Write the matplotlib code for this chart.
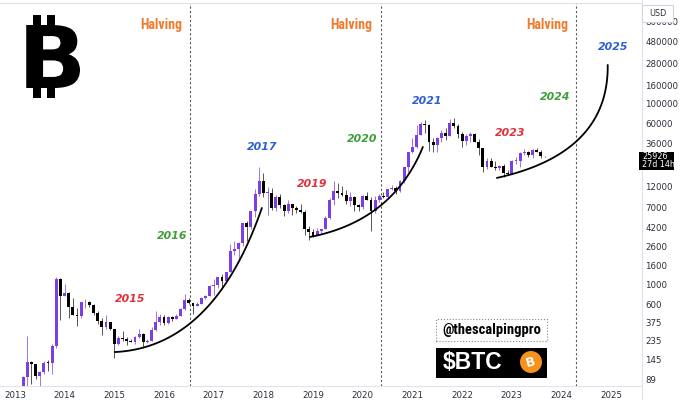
import numpy as np
import matplotlib
matplotlib.use("Agg")
import matplotlib.pyplot as plt
import matplotlib.transforms as mtrans
from matplotlib.patches import Rectangle, Ellipse, PathPatch
from matplotlib.textpath import TextPath
from matplotlib.font_manager import FontProperties

# monthly BTC candles, Mar 2013 .. Sep 2023
start_year, start_month = 2013, 3

opens = [34, 93, 139, 129, 97, 106, 135, 133, 205, 1140,
         740, 800, 560, 457, 447, 627, 640, 585, 478, 387, 338, 378,
         320, 217, 254, 244, 236, 230, 263, 284, 231, 236, 314, 377,
         430, 369, 437, 416, 448, 530, 673, 624, 573, 608, 700, 745,
         964, 970, 1190, 1080, 1350, 2300, 2480, 2860, 4700, 4340, 6440, 10000,
         13900, 10200, 10300, 6900, 9250, 7500, 6400, 7730, 7030, 6630, 6370, 4040,
         3740, 3440, 3830, 4100, 5350, 8570, 10800, 10100, 9590, 8290, 9150, 7550,
         7190, 9350, 8550, 6420, 8620, 9450, 9140, 11350, 11650, 10780, 13800, 19700,
         28950, 33100, 45200, 58800, 57700, 37300, 35000, 41500, 47100, 43800, 61300, 57000,
         46200, 38500, 43200, 45500, 37650, 31800, 19950, 23300, 20050, 19400, 20500, 17150,
         16550, 23150, 23150, 28450, 29250, 27200, 30450, 29250, 25950]
highs = [95, 266, 140, 130, 110, 140, 146, 215, 1200, 1163,
         1000, 810, 700, 540, 630, 680, 650, 600, 500, 420, 457, 380,
         320, 265, 300, 262, 247, 268, 317, 286, 245, 335, 500, 465,
         460, 445, 440, 470, 550, 780, 700, 625, 630, 720, 760, 980,
         1150, 1200, 1300, 1350, 2790, 3000, 2950, 4750, 5000, 6450, 11400, 19700,
         17200, 11800, 11700, 9750, 10000, 7770, 8500, 7750, 7400, 7700, 6600, 4400,
         4100, 4200, 4120, 5650, 9000, 13900, 13200, 12300, 10900, 10500, 9500, 7750,
         9600, 10500, 9200, 9470, 10070, 10400, 11450, 12480, 12080, 14100, 19900, 29300,
         41950, 58300, 61800, 64900, 59500, 41300, 42300, 50500, 52900, 67000, 69000, 59100,
         47950, 45800, 48200, 47450, 40000, 31950, 24650, 25200, 22800, 21100, 21450, 18400,
         23950, 25250, 29200, 31000, 29850, 31400, 31800, 30250, 26100]
lows = [33, 50, 79, 88, 65, 102, 110, 100, 198, 400,
        740, 420, 450, 340, 420, 550, 560, 450, 360, 275, 320, 310,
        152, 212, 235, 214, 228, 220, 252, 195, 225, 235, 300, 350,
        350, 365, 395, 415, 440, 520, 605, 465, 570, 606, 680, 740,
        750, 915, 890, 1060, 1350, 2100, 1830, 2650, 2970, 4100, 5500, 9500,
        9200, 5900, 6600, 6400, 7000, 5750, 6100, 5880, 6100, 6200, 3500, 3120,
        3350, 3370, 3700, 4100, 5330, 7450, 9100, 9400, 7700, 7300, 6500, 6420,
        6850, 8450, 3850, 6150, 8100, 8900, 8980, 10950, 9850, 10400, 13200, 17600,
        28200, 32300, 45000, 47000, 30000, 28800, 29300, 37300, 39600, 43300, 53250, 42000,
        32950, 34300, 37200, 37650, 26700, 17600, 18800, 19600, 18150, 18200, 15500, 16300,
        16500, 21450, 19600, 26950, 25800, 24800, 28850, 25200, 25800]
closes = [93, 139, 129, 97, 106, 135, 133, 205, 1140, 740,
          800, 560, 457, 447, 627, 640, 585, 478, 387, 338, 378, 320,
          217, 254, 244, 236, 230, 263, 284, 231, 236, 314, 377, 430,
          369, 437, 416, 448, 530, 673, 624, 573, 608, 700, 745, 964,
          970, 1190, 1080, 1350, 2300, 2480, 2860, 4700, 4340, 6440, 10000, 13900,
          10200, 10300, 6900, 9250, 7500, 6400, 7730, 7030, 6630, 6370, 4040, 3740,
          3440, 3830, 4100, 5350, 8570, 10800, 10100, 9590, 8290, 9150, 7550, 7190,
          9350, 8550, 6420, 8620, 9450, 9140, 11350, 11650, 10780, 13800, 19700, 28950,
          33100, 45200, 58800, 57700, 37300, 35000, 41500, 47100, 43800, 61300, 57000, 46200,
          38500, 43200, 45500, 37650, 31800, 19950, 23300, 20050, 19400, 20500, 17150, 16550,
          23150, 23160, 28450, 29250, 27200, 30450, 29250, 25950, 25926]

halvings = [2016.53, 2020.36, 2024.30]
year_ticks = list(range(2013, 2026))
price_ticks = [89, 145, 235, 375, 600, 1000, 1600, 2600, 4200, 7000, 12000,
               36000, 60000, 100000, 160000, 280000, 480000, 800000]

# cycle labels (year, price) and colours
cycle_labels = ["2015", "2016", "2017", "2019", "2020", "2021", "2023", "2024", "2025"]
cycle_x = [2015.31, 2016.16, 2017.97, 2018.98, 2019.98, 2021.29, 2022.96, 2023.87, 2025.03]
cycle_y = [684, 3410, 33000, 12830, 40450, 106600, 47100, 118000, 422500]
red, green, blue = "#e0323c", "#3f9d3a", "#2d5fd4"
cycle_colors = [red, green, blue, red, green, blue, red, green, blue]

# arcs under the cycles: start, control, end as (year, price)
arcs = [
    [(2015.01, 177), (2017.0, 200), (2017.97, 6970)],
    [(2018.94, 3330), (2020.6, 5010), (2021.21, 33000)],
    [(2022.70, 15000), (2024.95, 28200), (2024.93, 267000)],
]

W, H = 680, 400
fig = plt.figure(figsize=(W / 100, H / 100), dpi=100)
ax = fig.add_axes([0, 14 / H, 642 / W, 383 / H])
ax.set_yscale("log")
ax.set_xlim(2012.70, 2025.62)
ax.set_ylim(10 ** 1.872, 10 ** 6.113)

purple = "#7b3fe4"
t = start_year + (start_month - 1 + np.arange(len(closes))) / 12.0
o = np.array(opens, float)
c = np.array(closes, float)
hi = np.array(highs, float)
lo = np.array(lows, float)
up = c >= o
cols = np.where(up, purple, "#000000")
wick_cols = np.where(up, "#9c74ea", "#555555")
ax.vlines(t, lo, hi, colors=wick_cols, linewidth=0.7, zorder=2)
bottom = np.minimum(o, c)
top = np.maximum(o, c)
top = np.maximum(top, bottom * 1.02)
ax.bar(t, top - bottom, bottom=bottom, width=0.058, color=cols, linewidth=0, zorder=3)

# arcs
s = np.linspace(0, 1, 100)[:, None]
for p0, p1, p2 in arcs:
    P = np.array([[p[0], np.log10(p[1])] for p in (p0, p1, p2)])
    pts = (1 - s) ** 2 * P[0] + 2 * s * (1 - s) * P[1] + s ** 2 * P[2]
    ax.plot(pts[:, 0], 10 ** pts[:, 1], color="black", lw=1.3, zorder=4,
            solid_capstyle="round")

narrow = ["Roboto Condensed", "Liberation Sans Narrow", "DejaVu Sans"]
blend = mtrans.blended_transform_factory(ax.transData, ax.transAxes)
for d in halvings:
    ax.axvline(d, color="#555555", lw=0.8, ls=(0, (2, 2)), zorder=1)
    ax.text(d - 0.16, 0.942, "Halving", transform=blend, ha="right", va="center",
            color="#f07a2e", fontsize=10, fontweight="bold", family=narrow,
            fontstretch="condensed")

for lab, x, y, col in zip(cycle_labels, cycle_x, cycle_y, cycle_colors):
    ax.text(x, y, lab, color=col, fontsize=7.8, fontstyle="italic",
            fontweight="bold", ha="center", va="center", zorder=5)

# axes styling
ax.spines["left"].set_visible(False)
for sp in ["top", "bottom", "right"]:
    ax.spines[sp].set_color("#e0e3eb")
    ax.spines[sp].set_linewidth(0.8)
ax.yaxis.tick_right()
ax.set_yticks(price_ticks)
ax.set_yticklabels([str(v) for v in price_ticks])
ax.yaxis.set_minor_locator(matplotlib.ticker.NullLocator())
ax.set_xticks(year_ticks)
ax.set_xticklabels([str(y) for y in year_ticks])
ax.tick_params(axis="y", length=0, pad=2.5, labelsize=6.2, colors="#2a2e39")
ax.tick_params(axis="x", length=0, pad=3.5, labelsize=6.2, colors="#2a2e39")
fig.add_artist(plt.Line2D([642 / W, 642 / W], [0, 1], color="#e0e3eb", lw=0.8,
                          transform=fig.transFigure))


def frac_rect(x0, y0, x1, y1, **kw):
    return Rectangle((x0 / W, 1 - y1 / H), (x1 - x0) / W, (y1 - y0) / H,
                     transform=fig.transFigure, **kw)


# last price tag, placed at the last close
y_last = H - ax.transData.transform((t[-1], closes[-1]))[1]
fig.add_artist(frac_rect(639, y_last - 4.5, 674, y_last + 13.5, fc="black", ec="none",
                         zorder=10))
fig.text(642 / W, 1 - (y_last + 0.5) / H, "25926", fontsize=5.8, color="white",
         ha="left", va="center", zorder=11)
fig.text(642 / W, 1 - (y_last + 8) / H, "27d 14h", fontsize=5.8, color="white",
         ha="left", va="center", zorder=11)

# USD box
fig.add_artist(frac_rect(642, 5, 673, 22, fc="white", ec="#d1d4dc", lw=0.8, zorder=10))
fig.text(657.5 / W, 1 - 13 / H, "USD", fontsize=5.8, color="#2a2e39",
         ha="center", va="center", zorder=11)

# big bitcoin logo top left
tp = TextPath((0, 0), "B", size=1, prop=FontProperties(family="DejaVu Sans", weight="bold"))
v = tp.vertices
bx0, bx1, by0, by1 = v[:, 0].min(), v[:, 0].max(), v[:, 1].min(), v[:, 1].max()
tr = mtrans.Affine2D().translate(-bx0, -by0).scale(62 / (bx1 - bx0), 63 / (by1 - by0)) \
    .translate(18, H - 88)
fig.add_artist(PathPatch(tp, fc="black", ec="none", transform=tr))
for xa, xb in [(33, 41), (47, 55)]:
    fig.add_artist(frac_rect(xa, 15, xb, 26, fc="black", ec="none"))
    fig.add_artist(frac_rect(xa, 87, xb, 98, fc="black", ec="none"))

# watermark boxes
fig.add_artist(frac_rect(436, 319, 547, 341, fc="white", ec="#888888", lw=0.8, ls=":"))
fig.text(491.5 / W, 1 - 330 / H, "@thescalpingpro", fontsize=10.5, fontweight="bold",
         family=narrow, fontstretch="condensed", ha="center", va="center", color="black")
fig.add_artist(frac_rect(436, 348, 547, 378, fc="black", ec="none"))
fig.text(443 / W, 1 - 362.5 / H, "$BTC", fontsize=16.5, fontweight="bold",
         family=["Liberation Sans", "DejaVu Sans"], ha="left", va="center", color="white")
fig.add_artist(Ellipse((531 / W, 1 - 362 / H), 22 / W, 22 / H, fc="#f7931a", ec="none",
                       transform=fig.transFigure))
fig.text(531 / W, 1 - 362 / H, "B", fontsize=9, fontweight="bold", rotation=14,
         ha="center", va="center", color="white")

fig.savefig("out.png", dpi=100)
